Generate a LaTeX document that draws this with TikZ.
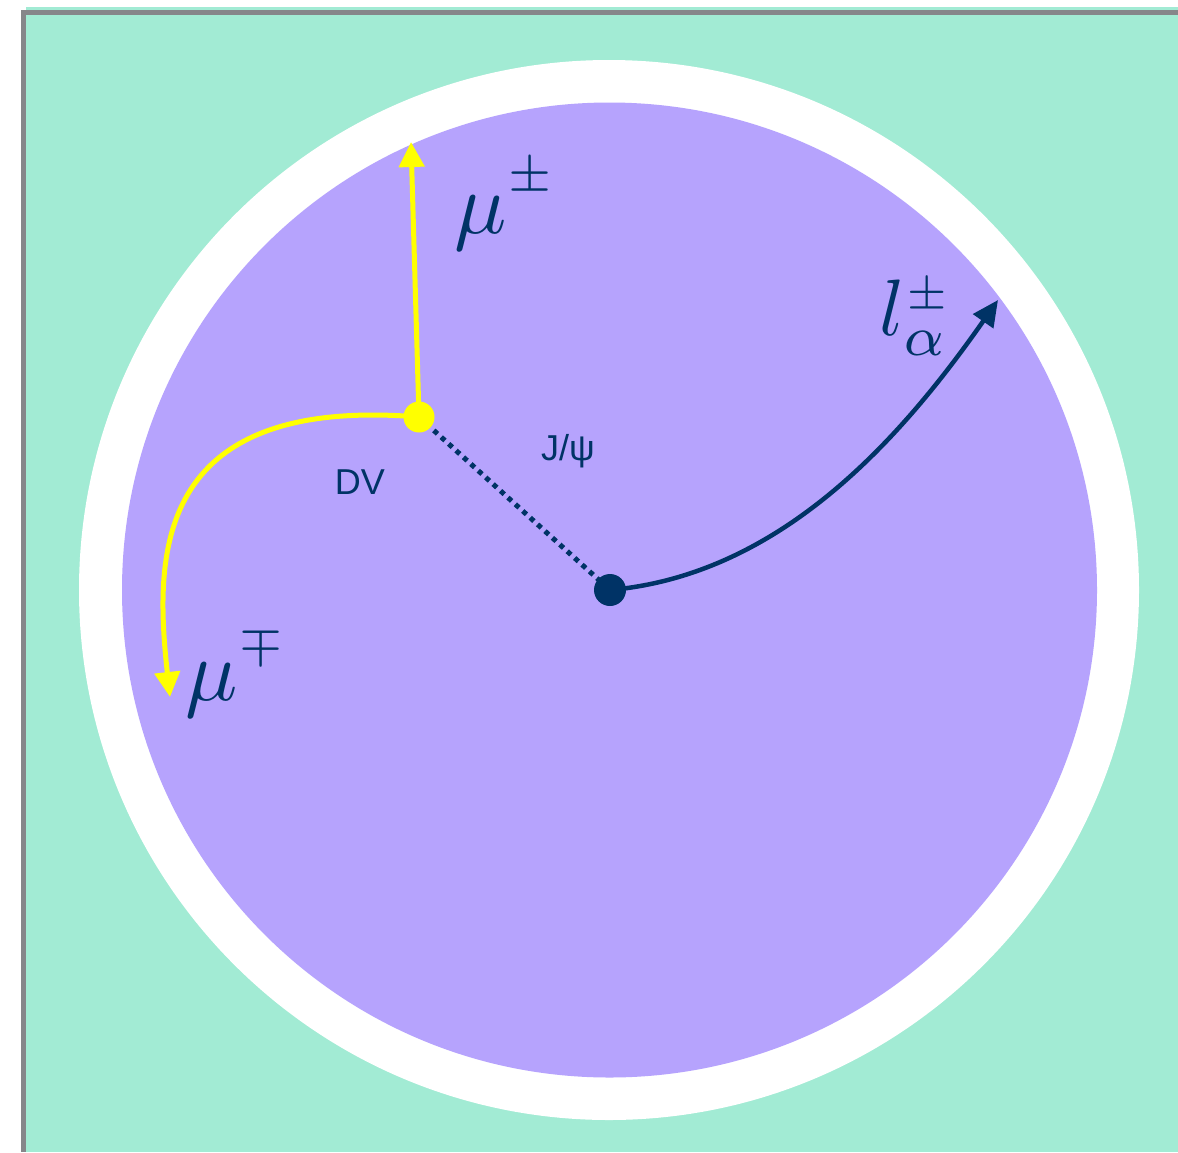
\documentclass[tikz,border=0pt]{standalone}
\usepackage{fontspec}
\setsansfont{Liberation Sans}
\usetikzlibrary{arrows.meta}
\definecolor{bggreen}{HTML}{A2EBD4}
\definecolor{detpurple}{HTML}{B6A3FD}
\definecolor{navy}{HTML}{003366}
\definecolor{framegray}{HTML}{86868A}
\definecolor{trackyellow}{HTML}{FFFF00}
\newcommand{\upsup}[1]{\raisebox{1.6pt}{$\scriptscriptstyle#1$}}
\tikzset{
  muontrack/.style={draw=trackyellow, line width=5pt, -{Triangle[length=25pt,width=25pt]}},
  leptontrack/.style={draw=navy, line width=4.5pt, -{Triangle[length=26pt,width=24pt]}},
  vtxdot/.style={circle, inner sep=0pt, minimum size=#1},
  mathlabel/.style={text=navy, inner sep=0pt},
  txtlabel/.style={text=navy, font=\sffamily\fontsize{36}{36}\selectfont, inner sep=0pt}
}
\begin{document}
\begin{tikzpicture}[x=1pt,y=-1pt]
\useasboundingbox (0,0) rectangle (1178,1152);
% background
\fill[bggreen] (26,7) rectangle (1178,1152);
\fill[framegray] (21,10) rectangle (26,1152);
\fill[framegray] (21,10) rectangle (1178,15);
% detector
\fill[white] (609,590) circle (530);
\fill[detpurple] (609.5,590) circle (487.5);
% key points
\coordinate (dvc) at (419,417);
\coordinate (pvc) at (610,590);
\coordinate (mutip) at (411,142);
\coordinate (mutip2) at (170,697);
\coordinate (ltip) at (998,300);
% tracks
\draw[navy, line width=5pt, dash pattern=on 5pt off 5pt] (dvc) -- (pvc);
\draw[muontrack] (dvc) -- (mutip);
\draw[muontrack] (dvc) .. controls (150,395) and (155,560) .. (mutip2);
\draw[leptontrack] (pvc) .. controls (780,575) and (900,440) .. (ltip);
% vertices
\node[vtxdot=31pt, fill=trackyellow] (dv) at (dvc) {};
\node[vtxdot=32pt, fill=navy] (pv) at (pvc) {};
% labels
\node[mathlabel] (mupm) at (506,205) {\scalebox{8.7}{$\mu^{\upsup{\pm}}$}};
\node[mathlabel] (mump) at (237,672) {\scalebox{8.7}{$\mu^{\upsup{\mp}}$}};
\node[mathlabel] (lal) at (916,318) {\scalebox{8}{$l_{\alpha}^{\scriptscriptstyle\pm}$}};
\node[txtlabel] (dvl) at (360,482) {DV};
\node[txtlabel] (jpsi) at (568,451) {J/ψ};
\end{tikzpicture}
\end{document}
